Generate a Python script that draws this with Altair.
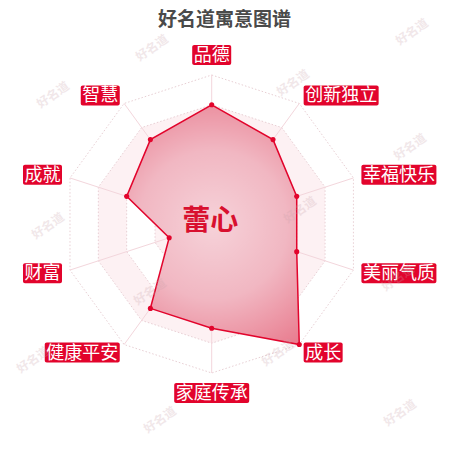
import math
import altair as alt
import pandas as pd

# ---------------- data ----------------
categories = ["品德", "创新独立", "幸福快乐", "美丽气质", "成长",
              "家庭传承", "健康平安", "财富", "成就", "智慧"]
values = [80, 70, 60, 60, 100, 70, 70, 30, 60, 70]
max_value = 100
ring_levels = [0.2, 0.4, 0.6, 0.8, 1.0]
center_name = "蕾心"
title_text = "好名道寓意图谱"
watermark_text = "好名道"
watermark_page_xy = [(152, 48), (412, 32), (53, 95), (293, 83), (410, 147),
                     (48, 226), (300, 210), (398, 278), (150, 292),
                     (278, 353), (33, 360), (160, 420), (400, 413)]

# ---------------- layout ----------------
W = H = 434
CX, CY, R = 203.7, 216.0, 149.0      # centre & radius in chart pixels
FONT = "Noto Sans CJK SC"
RED = "#e2042c"

xs = alt.Scale(domain=[-CX / R, (W - CX) / R], nice=False, zero=False)
ys = alt.Scale(domain=[(CY - H) / R, CY / R], nice=False, zero=False)


def X(f):
    return alt.X(f"{f}:Q", scale=xs, axis=None)


def Y(f):
    return alt.Y(f"{f}:Q", scale=ys, axis=None)


n = len(categories)
ang = [2 * math.pi * i / n for i in range(n)]

poly = pd.DataFrame({
    "cat": categories,
    "k": list(range(n)),
    "x": [v / max_value * math.sin(a) for v, a in zip(values, ang)],
    "y": [v / max_value * math.cos(a) for v, a in zip(values, ang)],
})

rings = pd.DataFrame([
    {"lvl": l, "k": i, "x": l * math.sin(a), "y": l * math.cos(a)}
    for l in ring_levels for i, a in enumerate(ang)
])

spokes = pd.DataFrame({
    "x0": [0.0] * n, "y0": [0.0] * n,
    "x1": [math.sin(a) for a in ang], "y1": [math.cos(a) for a in ang],
})

# label boxes
LR = 1.067
CH = 18.0 / R
PADX = 1.5 / R
BH = 20.0 / R
rows = []
for c, a in zip(categories, ang):
    s, co = math.sin(a), math.cos(a)
    ax, ay = LR * s, LR * co
    w = len(c) * CH + 2 * PADX
    if abs(s) < 0.01:
        bx0, bx1 = ax - w / 2, ax + w / 2
        if co > 0:
            by0, by1 = ay, ay + BH
        else:
            by0, by1 = ay - BH, ay
    elif s > 0:
        bx0, bx1 = ax - PADX, ax - PADX + w
        by0, by1 = ay - BH / 2, ay + BH / 2
    else:
        bx0, bx1 = ax + PADX - w, ax + PADX
        by0, by1 = ay - BH / 2, ay + BH / 2
    rows.append({"cat": c, "bx0": bx0, "bx1": bx1, "by0": by0, "by1": by1,
                 "tx": (bx0 + bx1) / 2, "ty": (by0 + by1) / 2})
labels = pd.DataFrame(rows)

wm = pd.DataFrame({
    "x": [(px - 8 - CX) / R for px, py in watermark_page_xy],
    "y": [(CY - (py - 8)) / R for px, py in watermark_page_xy],
})

center = pd.DataFrame({"x": [0.0], "y": [0.0], "t": [center_name]})
title_df = pd.DataFrame({"t": [title_text]})

# ---------------- layers ----------------
SHADE = "#fdf1f3"
ring_fill_layers = []
for lvl, col in [(0.8, SHADE), (0.6, "white"), (0.4, SHADE), (0.2, "white")]:
    ring_fill_layers.append(
        alt.Chart(rings).transform_filter(f"abs(datum.lvl - {lvl}) < 1e-6")
        .mark_line(interpolate="linear-closed", fill=col, strokeOpacity=0)
        .encode(x=X("x"), y=Y("y"), order=alt.Order("k:Q"))
    )

grid = alt.Chart(rings).mark_line(
    interpolate="linear-closed", color="#e8cfd4", strokeWidth=1,
    strokeDash=[1.5, 2]
).encode(x=X("x"), y=Y("y"), detail="lvl:N", order=alt.Order("k:Q"))

spoke = alt.Chart(spokes).mark_rule(color="#f3d6dc", strokeWidth=1).encode(
    x=X("x0"), y=Y("y0"), x2="x1", y2="y1")

grad = alt.RadialGradient(
    gradient="radial",
    stops=[alt.GradientStop(color="#f6d2d9", offset=0),
           alt.GradientStop(color="#f1b7c2", offset=0.5),
           alt.GradientStop(color="#e8798c", offset=1)],
    x1=0.5, y1=0.5, r1=0, x2=0.5, y2=0.5, r2=0.62,
)

area = alt.Chart(poly).mark_line(
    interpolate="linear-closed", fill=grad, stroke=RED, strokeWidth=1.5
).encode(x=X("x"), y=Y("y"), order=alt.Order("k:Q"))

pts = alt.Chart(poly).mark_circle(size=26, color=RED, opacity=1).encode(
    x=X("x"), y=Y("y"))

center_txt = alt.Chart(center).mark_text(
    fontSize=28, fontWeight="bold", font=FONT, color="#d8102f",
    align="center", baseline="middle", dx=-1.5, dy=-2
).encode(x=X("x"), y=Y("y"), text="t:N")

boxes = alt.Chart(labels).mark_rect(color=RED, cornerRadius=2).encode(
    x=X("bx0"), x2="bx1", y=Y("by0"), y2="by1")

label_txt = alt.Chart(labels).mark_text(
    fontSize=18, font=FONT, color="white", align="center", baseline="middle", dy=1
).encode(x=X("tx"), y=Y("ty"), text="cat:N")

title = alt.Chart(title_df).mark_text(
    fontSize=19, fontWeight="bold", font=FONT, color="#4a4a4a",
    align="center", baseline="middle"
).encode(x=alt.value(216.5), y=alt.value(12), text="t:N")

watermarks = alt.Chart(wm).mark_text(
    text=watermark_text, fontSize=12, font=FONT, fontWeight="bold",
    color="#c9a3ab", opacity=0.25, angle=325, align="center", baseline="middle"
).encode(x=X("x"), y=Y("y"))

chart = alt.layer(
    *ring_fill_layers, grid, spoke, area, pts, center_txt, boxes, label_txt,
    title, watermarks
).properties(
    width=W, height=H, padding=0, autosize=alt.AutoSizeParams(type="none")
).configure_view(stroke=None)

chart.save("out.html", embed_options={"renderer": "svg", "actions": False})
